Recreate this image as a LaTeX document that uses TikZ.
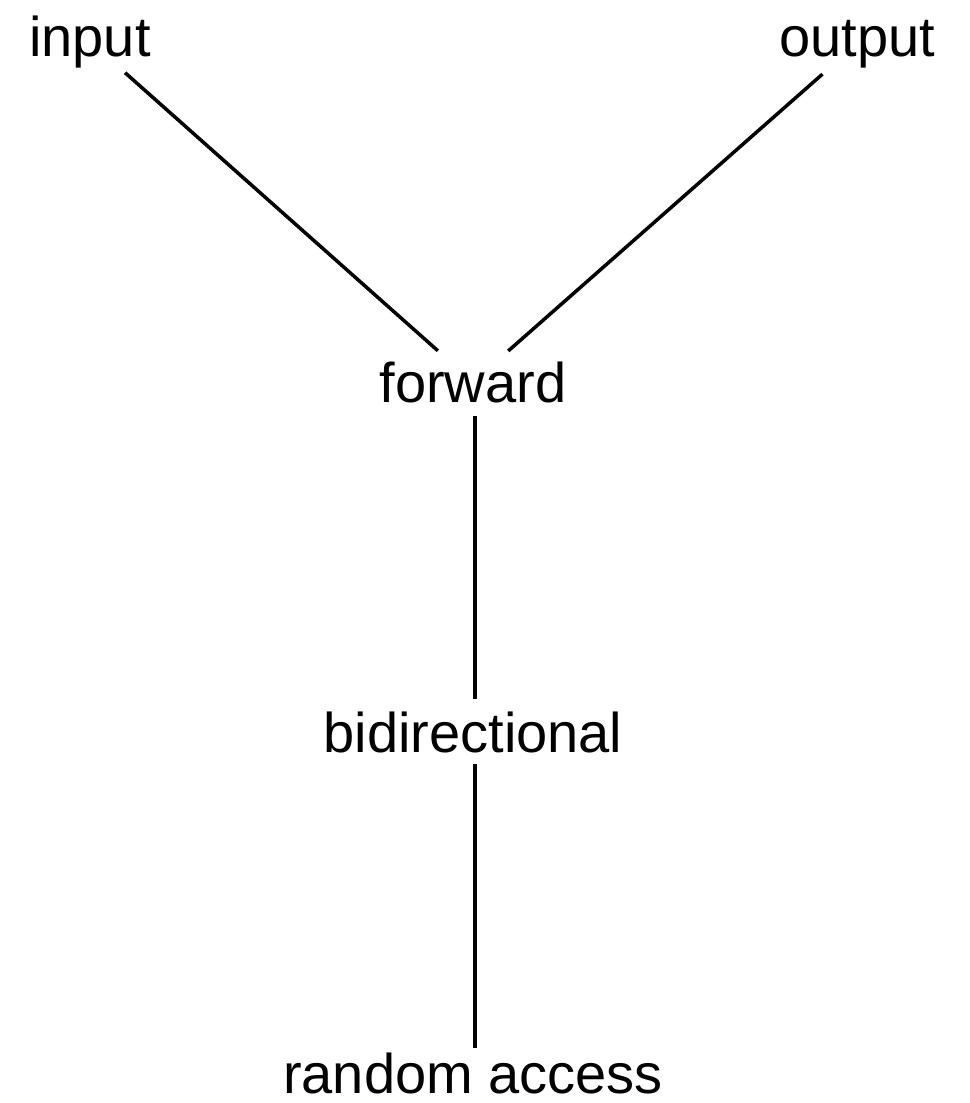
\documentclass[tikz,border=0pt]{standalone}
\usepackage{fontspec}
\setmainfont{Liberation Sans}
\begin{document}
\begin{tikzpicture}[x=1bp,y=-1bp,
  lbl/.style={inner sep=0pt,anchor=base,font=\fontsize{56bp}{60bp}\selectfont},
  link/.style={line width=3.5bp}]
\useasboundingbox (0,0) rectangle (970,1103);
\node[lbl] (input) at (90,56) {input};
\node[lbl] (output) at (857,56) {output};
\node[lbl] (forward) at (473,402) {forward};
\node[lbl] (bidir) at (473,752) {bidirectional};
\node[lbl] (random) at (473,1093) {random access};
\draw[link,shorten <=47bp,shorten >=47bp] (input.center) -- (forward.center);
\draw[link,shorten <=46bp,shorten >=47bp] (output.center) -- (forward.center);
\draw[link,shorten <=34bp,shorten >=33bp] ([xshift=2bp]forward.center) -- ([xshift=2bp]bidir.center);
\draw[link,shorten <=32bp,shorten >=25bp] ([xshift=2bp]bidir.center) -- ([xshift=2bp]random.center);
\end{tikzpicture}
\end{document}
